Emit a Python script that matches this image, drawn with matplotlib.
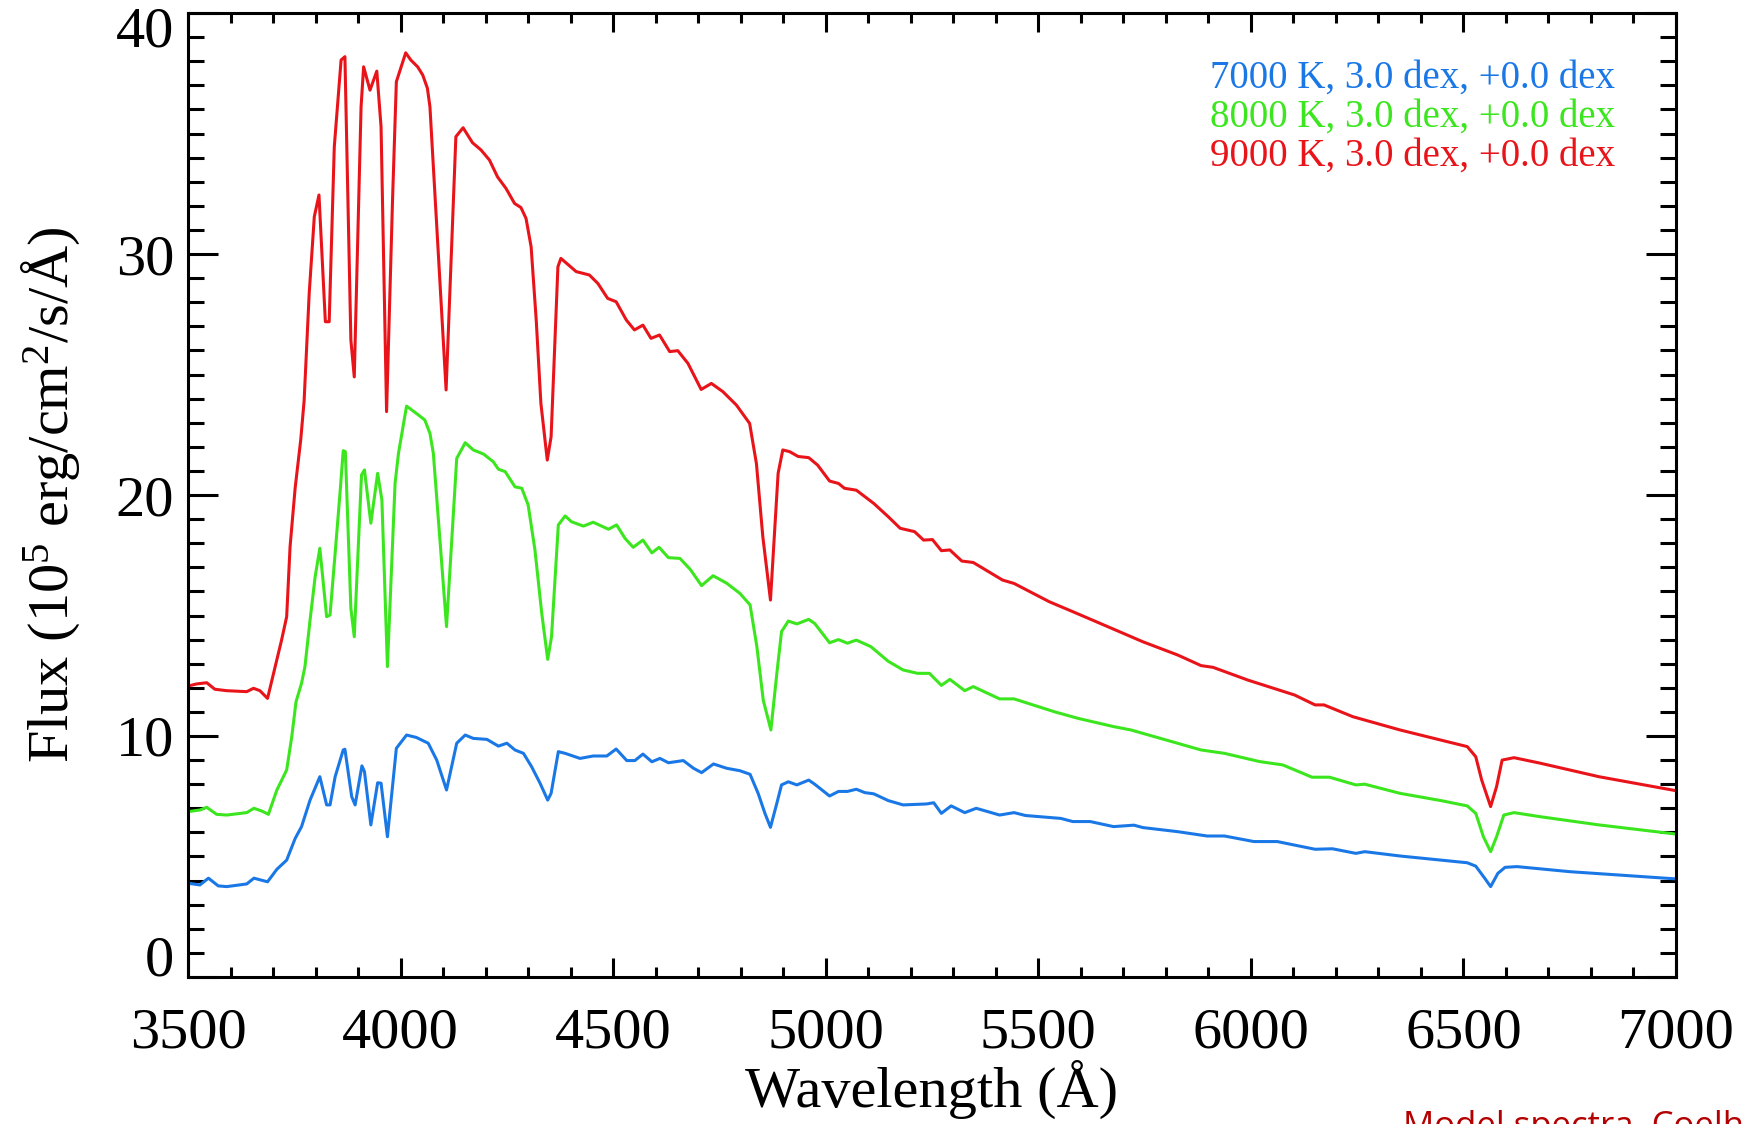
#!/usr/bin/env python3
"""
spectra.py: plot three model stellar spectra
 (7000, 8000 and 9000 K) over the optical range.
"""

import matplotlib

matplotlib.use("Agg")
import matplotlib.pyplot as plt
from matplotlib.ticker import FuncFormatter, MultipleLocator

plt.rcParams["font.family"] = ["Liberation Serif", "DejaVu Serif"]
plt.rcParams["mathtext.fontset"] = "custom"
plt.rcParams["mathtext.rm"] = "Liberation Serif"
plt.rcParams["mathtext.default"] = "rm"

# Data (wavelength in Angstrom, flux in 1e5 erg/cm2/s/A)
WAVE_9000 = [
    3500, 3520, 3544, 3563, 3591, 3638, 3654, 3669, 3687, 3705, 3720, 3732,
    3740, 3752, 3765, 3773, 3785, 3797, 3808, 3823, 3832, 3844, 3860, 3869,
    3883, 3891, 3907, 3913, 3928, 3944, 3954, 3967, 3981, 3990, 4012, 4024,
    4040, 4052, 4063, 4069, 4107, 4130, 4147, 4169, 4189, 4209, 4228, 4248,
    4268, 4283, 4295, 4307, 4319, 4330, 4345, 4354, 4370, 4377, 4413, 4444,
    4464, 4487, 4507, 4531, 4550, 4570, 4589, 4609, 4633, 4652, 4676, 4707,
    4731, 4758, 4790, 4821, 4837, 4852, 4870, 4888, 4899, 4915, 4935, 4960,
    4981, 5009, 5030, 5044, 5072, 5113, 5147, 5175, 5209, 5230, 5251, 5272,
    5292, 5320, 5347, 5416, 5443, 5526, 5581, 5663, 5746, 5828, 5883, 5911,
    5993, 6103, 6151, 6172, 6240, 6351, 6447, 6509, 6529, 6543, 6564, 6578,
    6591, 6619, 6681, 6819, 7000,
]
FLUX_9000 = [
    12.07, 12.16, 12.21, 11.94, 11.88, 11.84, 11.98, 11.88, 11.56, 12.88, 13.98, 14.95,
    17.86, 20.3, 22.28, 23.9, 28.37, 31.55, 32.45, 27.19, 27.19, 34.45, 38.05, 38.19,
    26.43, 24.9, 36.11, 37.77, 36.8, 37.59, 35.28, 23.46, 32.24, 37.15, 38.35, 38.05,
    37.77, 37.43, 36.88, 36.11, 24.36, 34.87, 35.24, 34.62, 34.32, 33.9, 33.2, 32.72,
    32.1, 31.93, 31.48, 30.3, 27.26, 23.8, 21.45, 22.42, 29.47, 29.82, 29.27, 29.13,
    28.78, 28.16, 28.02, 27.26, 26.85, 27.05, 26.5, 26.64, 25.95, 25.99, 25.46, 24.38,
    24.63, 24.29, 23.73, 22.97, 21.3, 18.27, 15.64, 20.9, 21.87, 21.8, 21.6, 21.55,
    21.24, 20.58, 20.48, 20.28, 20.2, 19.65, 19.1, 18.62, 18.48, 18.13, 18.15, 17.69,
    17.72, 17.26, 17.2, 16.47, 16.33, 15.57, 15.16, 14.54, 13.91, 13.36, 12.92, 12.85,
    12.32, 11.7, 11.29, 11.29, 10.8, 10.25, 9.83, 9.56, 9.14, 8.17, 7.07, 7.9,
    9.0, 9.1, 8.87, 8.31, 7.73,
]

WAVE_8000 = [
    3500, 3528, 3544, 3567, 3591, 3638, 3655, 3673, 3689, 3709, 3732, 3744,
    3754, 3767, 3775, 3787, 3799, 3810, 3826, 3834, 3846, 3858, 3865, 3870,
    3883, 3891, 3908, 3915, 3930, 3946, 3956, 3969, 3987, 3995, 4014, 4042,
    4057, 4069, 4077, 4108, 4132, 4152, 4171, 4195, 4218, 4230, 4246, 4269,
    4285, 4300, 4316, 4332, 4346, 4355, 4371, 4387, 4402, 4430, 4453, 4489,
    4508, 4528, 4547, 4570, 4591, 4608, 4630, 4657, 4681, 4708, 4735, 4767,
    4798, 4822, 4838, 4853, 4871, 4885, 4896, 4912, 4932, 4960, 4974, 5009,
    5030, 5051, 5072, 5106, 5147, 5182, 5216, 5244, 5272, 5292, 5327, 5347,
    5409, 5443, 5539, 5594, 5677, 5718, 5883, 5938, 6020, 6075, 6144, 6185,
    6247, 6268, 6351, 6447, 6509, 6529, 6547, 6564, 6578, 6595, 6619, 6681,
    6819, 7000,
]
FLUX_8000 = [
    6.86, 6.93, 7.04, 6.75, 6.72, 6.82, 7.0, 6.89, 6.75, 7.76, 8.59, 9.97,
    11.42, 12.19, 12.88, 14.81, 16.61, 17.79, 14.95, 15.02, 17.58, 20.2, 21.84, 21.8,
    15.3, 14.12, 20.83, 21.04, 18.83, 20.9, 19.79, 12.88, 20.49, 21.73, 23.69, 23.32,
    23.11, 22.56, 21.73, 14.54, 21.52, 22.17, 21.87, 21.7, 21.38, 21.07, 20.97, 20.34,
    20.28, 19.59, 17.72, 15.09, 13.18, 14.12, 18.76, 19.13, 18.89, 18.71, 18.87, 18.58,
    18.76, 18.2, 17.83, 18.13, 17.6, 17.83, 17.4, 17.37, 16.92, 16.24, 16.65, 16.34,
    15.92, 15.44, 13.71, 11.49, 10.25, 12.6, 14.33, 14.77, 14.65, 14.84, 14.67, 13.87,
    14.0, 13.85, 13.98, 13.71, 13.1, 12.74, 12.6, 12.6, 12.1, 12.35, 11.88, 12.05,
    11.54, 11.54, 11.0, 10.73, 10.39, 10.25, 9.42, 9.28, 8.94, 8.8, 8.29, 8.29,
    7.97, 8.0, 7.62, 7.32, 7.1, 6.79, 5.82, 5.2, 5.82, 6.72, 6.82, 6.65,
    6.31, 5.93,
]

WAVE_7000 = [
    3500, 3528, 3548, 3571, 3591, 3638, 3655, 3687, 3709, 3732, 3752, 3767,
    3787, 3810, 3826, 3834, 3846, 3865, 3869, 3885, 3893, 3909, 3915, 3930,
    3946, 3954, 3969, 3990, 4014, 4037, 4065, 4085, 4108, 4132, 4152, 4171,
    4203, 4230, 4250, 4269, 4289, 4308, 4328, 4346, 4354, 4371, 4387, 4422,
    4453, 4485, 4507, 4532, 4551, 4570, 4591, 4610, 4630, 4665, 4689, 4708,
    4736, 4767, 4798, 4822, 4841, 4857, 4870, 4885, 4896, 4912, 4932, 4960,
    4974, 5009, 5030, 5051, 5072, 5092, 5113, 5147, 5182, 5237, 5254, 5272,
    5295, 5327, 5354, 5409, 5443, 5470, 5553, 5581, 5622, 5677, 5725, 5746,
    5828, 5897, 5938, 6007, 6062, 6151, 6192, 6247, 6268, 6351, 6447, 6509,
    6529, 6550, 6564, 6581, 6598, 6626, 6750, 7000,
]
FLUX_7000 = [
    3.89, 3.82, 4.1, 3.78, 3.75, 3.86, 4.1, 3.95, 4.47, 4.85, 5.75, 6.24,
    7.34, 8.31, 7.14, 7.14, 8.31, 9.42, 9.45, 7.48, 7.14, 8.76, 8.52, 6.31,
    8.06, 8.04, 5.82, 9.49, 10.04, 9.94, 9.7, 9.0, 7.76, 9.7, 10.04, 9.9,
    9.86, 9.58, 9.7, 9.42, 9.28, 8.73, 8.04, 7.34, 7.62, 9.35, 9.28, 9.07,
    9.17, 9.17, 9.46, 8.98, 8.98, 9.25, 8.93, 9.07, 8.89, 8.98, 8.66, 8.48,
    8.84, 8.66, 8.56, 8.41, 7.62, 6.79, 6.21, 7.21, 7.97, 8.1, 7.97, 8.17,
    8.0, 7.51, 7.7, 7.7, 7.79, 7.65, 7.6, 7.32, 7.14, 7.18, 7.23, 6.79,
    7.1, 6.82, 7.0, 6.72, 6.82, 6.7, 6.58, 6.45, 6.45, 6.24, 6.3, 6.2,
    6.03, 5.85, 5.85, 5.62, 5.62, 5.3, 5.32, 5.13, 5.2, 5.02, 4.85, 4.74,
    4.6, 4.1, 3.75, 4.3, 4.55, 4.58, 4.37, 4.07,
]

LABELS = [
    "7000 K, 3.0 dex, +0.0 dex",
    "8000 K, 3.0 dex, +0.0 dex",
    "9000 K, 3.0 dex, +0.0 dex",
]
COLORS = ["#1a78e6", "#3ce61e", "#e8141a"]

Y_MIN, Y_MAX = 0, 40


def main():
    fig = plt.figure(figsize=(17.46, 11.24), dpi=100)
    ax = fig.add_axes([0.1077, 0.1308, 0.8522, 0.8576])

    series = [(WAVE_7000, FLUX_7000), (WAVE_8000, FLUX_8000), (WAVE_9000, FLUX_9000)]
    for (wave, flux), color in zip(series, COLORS):
        ax.plot(wave, flux, color=color, lw=2.2)

    ax.set_xlim(3500, 7000)
    ax.set_ylim(Y_MIN, Y_MAX)
    ax.xaxis.set_major_locator(MultipleLocator(500))
    ax.xaxis.set_minor_locator(MultipleLocator(100))
    ax.yaxis.set_major_locator(MultipleLocator(10))
    ax.yaxis.set_minor_locator(MultipleLocator(1))

    # end labels of the y axis are drawn separately so they sit inside the box
    ax.yaxis.set_major_formatter(
        FuncFormatter(lambda v, pos: "" if v in (Y_MIN, Y_MAX) else f"{v:.0f}")
    )
    ax.annotate(f"{Y_MIN}", xy=(0, Y_MIN), xycoords=("axes fraction", "data"),
                xytext=(-10, 1), textcoords="offset points",
                ha="right", va="baseline", fontsize=42)
    ax.annotate(f"{Y_MAX}", xy=(0, Y_MAX), xycoords=("axes fraction", "data"),
                xytext=(-10, 5), textcoords="offset points",
                ha="right", va="top", fontsize=42)

    for side in ax.spines.values():
        side.set_linewidth(2.2)
    ax.tick_params(which="both", direction="in", top=True, right=True, width=2.2, labelsize=42)
    ax.tick_params(axis="x", which="major", length=13.7, pad=22)
    ax.tick_params(axis="x", which="minor", length=7.2)
    ax.tick_params(axis="y", which="major", length=21.6, pad=10)
    ax.tick_params(axis="y", which="minor", length=11.5)

    ax.set_xlabel("Wavelength (Å)", fontsize=42, labelpad=0)
    ax.set_ylabel("Flux (10$^5$ erg/cm$^2$/s/Å)", fontsize=42, labelpad=24)

    # legend as coloured text, top right
    for i, (label, color) in enumerate(zip(LABELS, COLORS)):
        ax.text(0.959, 0.9326 - i * 0.0405, label, color=color, fontsize=28,
                ha="right", va="center", transform=ax.transAxes)

    fig.text(0.8035, 0.0125, "Model spectra, Coelho (2014)", color="#b40000",
             fontsize=25, family=["Open Sans", "DejaVu Sans"], ha="left", va="top")

    fig.savefig("out.png", dpi=100, facecolor="white")


if __name__ == "__main__":
    main()
